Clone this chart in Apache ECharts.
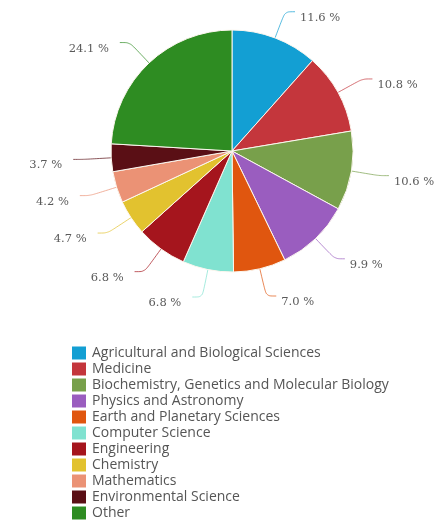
<!DOCTYPE html>
<html>
<head>
<meta charset="utf-8">
<script src="https://cdn.jsdelivr.net/npm/echarts@6/dist/echarts.min.js"></script>
<style>html,body{margin:0;padding:0;background:#fff;}#chart{width:434px;height:521px;}</style>
</head>
<body>
<div id="chart"></div>
<script>
var categories = [
  'Agricultural and Biological Sciences',
  'Medicine',
  'Biochemistry, Genetics and Molecular Biology',
  'Physics and Astronomy',
  'Earth and Planetary Sciences',
  'Computer Science',
  'Engineering',
  'Chemistry',
  'Mathematics',
  'Environmental Science',
  'Other'
];
var values = [11.6, 10.8, 10.6, 9.9, 7.0, 6.8, 6.8, 4.7, 4.2, 3.7, 24.1];
var colors = ['#139fd3', '#c4363c', '#78a04b', '#9a5dbf', '#e0560f', '#80e2d0', '#a5151d', '#e2c22f', '#eb9275', '#5a0f15', '#2e8c22'];

var chart = echarts.init(document.getElementById('chart'), null, {renderer: 'canvas'});
chart.setOption({
  animation: false,
  color: colors,
  legend: {
    orient: 'vertical',
    left: 72,
    top: 346,
    height: 400,
    padding: 0,
    itemWidth: 14,
    itemHeight: 13,
    itemGap: 2,
    icon: 'rect',
    selectedMode: false,
    itemStyle: {borderWidth: 0},
    textStyle: {fontFamily: 'Open Sans', fontSize: 14, lineHeight: 14, color: '#555', padding: [0, 0, 0, 1]},
    data: categories
  },
  series: [{
    type: 'pie',
    center: [232, 151],
    radius: 121,
    startAngle: 90,
    clockwise: true,
    avoidLabelOverlap: false,
    itemStyle: {borderColor: '#fbf6ee', borderWidth: 1},
    label: {
      show: true,
      position: 'outside',
      formatter: function (p) { return p.value.toFixed(1) + ' %'; },
      fontFamily: 'DejaVu Serif',
      fontSize: 11.5,
      color: '#5a5a5a'
    },
    labelLine: {show: true, length: 28, length2: 10, smooth: 0.3, lineStyle: {width: 1, opacity: 0.7}},
    labelLayout: function (params) {
      var left = params.labelRect.x + params.labelRect.width / 2 < 232;
      return {dx: left ? -6 : 0, dy: 6};
    },
    data: categories.map(function (c, i) { return {name: c, value: values[i]}; })
  }]
});
</script>
</body>
</html>
